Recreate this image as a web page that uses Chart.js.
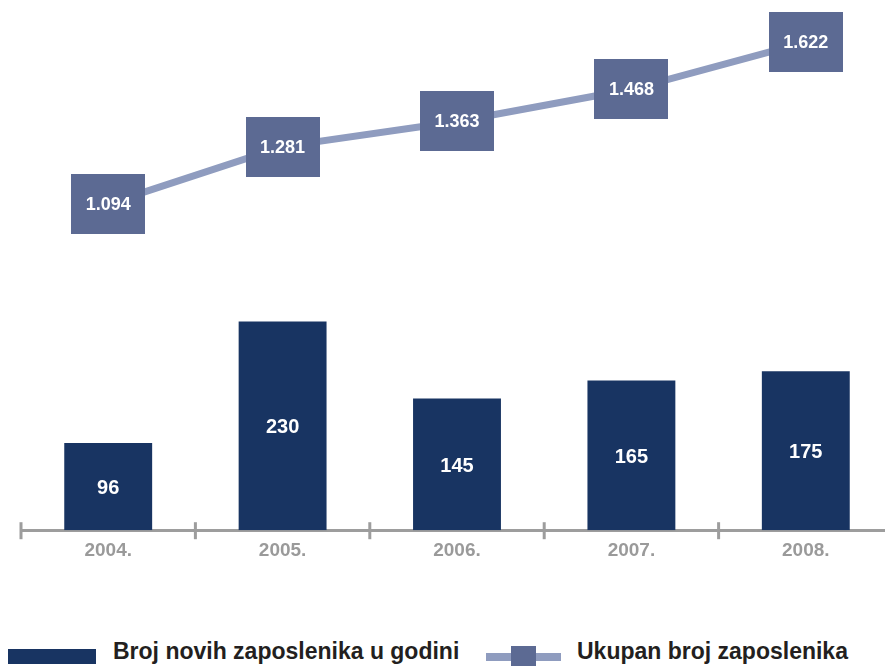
<!DOCTYPE html>
<html>
<head>
  <title>Broj zaposlenika</title>
  <script src="https://cdn.jsdelivr.net/npm/chart.js"></script>
  <style>
    body {
      margin: 0;
      background: #fff;
      overflow: hidden;
      font-family: 'Liberation Sans', Arial, sans-serif;
    }

    .wrap {
      position: relative;
      width: 900px;
      height: 666px;
    }

    .chart-box {
      position: absolute;
      left: 0;
      top: 0;
      width: 900px;
      height: 600px;
    }

    /* Legend */
    .legend-item {
      position: absolute;
      font-weight: bold;
      font-size: 23px;
      color: #231f20;
      white-space: nowrap;
    }

    .swatch-bar {
      position: absolute;
      left: 8px;
      top: 649px;
      width: 88px;
      height: 15px;
      background: #183462;
    }

    .swatch-line {
      position: absolute;
      left: 486px;
      top: 653px;
      width: 75px;
      height: 8px;
      background: #8f9cbf;
    }

    .swatch-square {
      position: absolute;
      left: 511px;
      top: 646px;
      width: 25px;
      height: 25px;
      background: #5c6a93;
    }
  </style>
</head>
<body>
  <div class="wrap">
    <div class="chart-box">
      <canvas id="chart"></canvas>
    </div>
    <div class="swatch-bar"></div>
    <div class="legend-item" style="left:113px; top:638px;">Broj novih zaposlenika u godini</div>
    <div class="swatch-line"></div>
    <div class="swatch-square"></div>
    <div class="legend-item" style="left:577px; top:638px;">Ukupan broj zaposlenika</div>
  </div>

  <script>
    // Data
    const years = ['2004.', '2005.', '2006.', '2007.', '2008.'];
    const newEmployees = [96, 230, 145, 165, 175];
    const totalEmployees = [1094, 1281, 1363, 1468, 1622];

    const barColor = '#183462';
    const boxColor = '#5c6a93';
    const lineColor = '#8f9cbf';
    const axisColor = '#9d9d9d';

    // box marker used as point style
    const box = document.createElement('canvas');
    box.width = 74;
    box.height = 60;
    const bctx = box.getContext('2d');
    bctx.fillStyle = boxColor;
    bctx.fillRect(0, 0, 74, 60);

    // thousands with a dot, like 1.094
    function fmt(v) {
      return v >= 1000 ? Math.floor(v / 1000) + '.' + String(v % 1000).padStart(3, '0') : String(v);
    }

    // value labels inside bars and boxes
    const valueLabels = {
      id: 'valueLabels',
      afterDatasetsDraw(chart) {
        const ctx = chart.ctx;
        ctx.save();
        ctx.fillStyle = '#fff';
        ctx.textAlign = 'center';
        ctx.textBaseline = 'middle';
        chart.data.datasets.forEach((ds, i) => {
          const meta = chart.getDatasetMeta(i);
          meta.data.forEach((el, j) => {
            if (ds.type === 'bar') {
              ctx.font = 'bold 20px "Liberation Sans", Arial, sans-serif';
              ctx.fillText(fmt(ds.data[j]), el.x, (el.y + el.base) / 2 + 2);
            } else {
              ctx.font = 'bold 18px "Liberation Sans", Arial, sans-serif';
              ctx.fillText(fmt(ds.data[j]), el.x, el.y + 1);
            }
          });
        });
        ctx.restore();
      }
    };

    // tick marks crossing the axis line at category edges
    const axisTicks = {
      id: 'axisTicks',
      afterDraw(chart) {
        const x = chart.scales.x;
        const ctx = chart.ctx;
        const n = chart.data.labels.length;
        const y = chart.chartArea.bottom;
        ctx.save();
        ctx.strokeStyle = axisColor;
        ctx.lineWidth = 3;
        for (let i = 0; i <= n; i++) {
          const px = x.left + i * (x.width / n);
          ctx.beginPath();
          ctx.moveTo(px, y - 8);
          ctx.lineTo(px, y + 9);
          ctx.stroke();
        }
        ctx.restore();
      }
    };

    new Chart(document.getElementById('chart'), {
      data: {
        labels: years,
        datasets: [{
          type: 'line',
          label: 'Ukupan broj zaposlenika',
          data: totalEmployees,
          yAxisID: 'y2',
          borderColor: lineColor,
          borderWidth: 7,
          tension: 0,
          pointStyle: box,
          pointRadius: 5,
          pointBorderWidth: 0,
          clip: false
        }, {
          type: 'bar',
          label: 'Broj novih zaposlenika u godini',
          data: newEmployees,
          yAxisID: 'y',
          backgroundColor: barColor,
          barPercentage: 0.504,
          categoryPercentage: 1
        }]
      },
      options: {
        responsive: true,
        maintainAspectRatio: false,
        animation: false,
        events: [],
        layout: {
          padding: { left: 21, right: 7, top: 10, bottom: 29 }
        },
        plugins: {
          legend: { display: false },
          tooltip: { enabled: false }
        },
        scales: {
          x: {
            grid: { display: false, drawTicks: false },
            border: { display: true, color: axisColor, width: 3 },
            ticks: {
              color: '#9a9a9a',
              padding: 9,
              font: { family: '"Liberation Sans", Arial, sans-serif', size: 19, weight: 'bold' }
            }
          },
          y: {
            display: false,
            min: 0,
            max: 573
          },
          y2: {
            display: false,
            min: 28,
            max: 1727
          }
        }
      },
      plugins: [valueLabels, axisTicks]
    });
  </script>
</body>
</html>
